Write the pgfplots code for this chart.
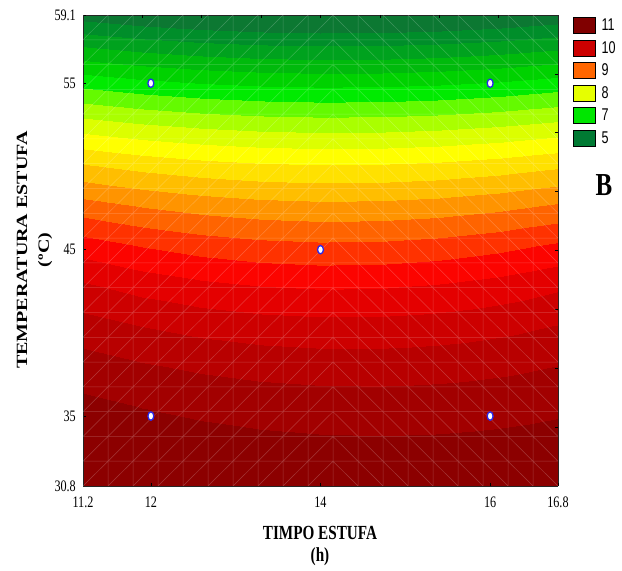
\documentclass[border=0pt]{standalone}
\usepackage{pgfplots}
\pgfplotsset{compat=1.18}
\usepackage{pgfplotstable}
\usepackage{graphicx}
\usepackage{fontspec}
\setmainfont{Liberation Serif}
\newfontfamily\arial{Liberation Sans}
\newcommand\tl[1]{\scalebox{0.76}[1]{#1}}
\newcommand\lt[1]{\scalebox{0.74}[1]{#1}}

\pgfplotstableread{
x y z
11.2 30.8 -0.317
11.9 30.8 -0.090
12.6 30.8 0.089
13.3 30.8 0.218
14.0 30.8 0.299
14.7 30.8 0.331
15.4 30.8 0.313
16.1 30.8 0.246
16.8 30.8 0.131
11.2 33.2 0.105
11.9 33.2 0.348
12.6 33.2 0.536
13.3 33.2 0.671
14.0 33.2 0.752
14.7 33.2 0.779
15.4 33.2 0.752
16.1 33.2 0.671
16.8 33.2 0.536
11.2 35.6 0.709
11.9 35.6 0.987
12.6 35.6 1.200
13.3 35.6 1.351
14.0 35.6 1.437
14.7 35.6 1.460
15.4 35.6 1.419
16.1 35.6 1.314
16.8 35.6 1.146
11.2 38.0 1.473
11.9 38.0 1.818
12.6 38.0 2.080
13.3 38.0 2.259
14.0 38.0 2.354
14.7 38.0 2.366
15.4 38.0 2.294
16.1 38.0 2.140
16.8 38.0 1.902
11.2 40.4 2.457
11.9 40.4 2.880
12.6 40.4 3.196
13.3 40.4 3.404
14.0 40.4 3.504
14.7 40.4 3.496
15.4 40.4 3.381
16.1 40.4 3.157
16.8 40.4 2.826
11.2 42.8 3.676
11.9 42.8 4.177
12.6 42.8 4.546
13.3 42.8 4.782
14.0 42.8 4.886
14.7 42.8 4.858
15.4 42.8 4.697
16.1 42.8 4.404
16.8 42.8 3.979
11.2 45.2 5.247
11.9 45.2 5.766
12.6 45.2 6.148
13.3 45.2 6.393
14.0 45.2 6.501
14.7 45.2 6.472
15.4 45.2 6.305
16.1 45.2 6.001
16.8 45.2 5.560
11.2 47.6 7.227
11.9 47.6 7.691
12.6 47.6 8.032
13.3 47.6 8.251
14.0 47.6 8.347
14.7 47.6 8.321
15.4 47.6 8.172
16.1 47.6 7.901
16.8 47.6 7.507
11.2 50.0 9.440
11.9 50.0 9.848
12.6 50.0 10.149
13.3 50.0 10.341
14.0 50.0 10.426
14.7 50.0 10.403
15.4 50.0 10.272
16.1 50.0 10.033
16.8 50.0 9.687
11.2 52.4 11.842
11.9 52.4 12.213
12.6 52.4 12.486
13.3 52.4 12.661
14.0 52.4 12.738
14.7 52.4 12.717
15.4 52.4 12.598
16.1 52.4 12.381
16.8 52.4 12.066
11.2 54.8 14.385
11.9 54.8 14.756
12.6 54.8 15.029
13.3 54.8 15.204
14.0 54.8 15.281
14.7 54.8 15.260
15.4 54.8 15.141
16.1 54.8 14.924
16.8 54.8 14.609
11.2 57.2 17.162
11.9 57.2 17.533
12.6 57.2 17.806
13.3 57.2 17.981
14.0 57.2 18.058
14.7 57.2 18.037
15.4 57.2 17.918
16.1 57.2 17.701
16.8 57.2 17.386
11.2 59.1 19.524
11.9 59.1 19.895
12.6 59.1 20.168
13.3 59.1 20.343
14.0 59.1 20.420
14.7 59.1 20.399
15.4 59.1 20.280
16.1 59.1 20.063
16.8 59.1 19.748
}\surfdata

\definecolor{L11}{RGB}{128,0,0}
\definecolor{L10}{RGB}{204,0,0}
\definecolor{L9}{RGB}{255,102,0}
\definecolor{L8}{RGB}{230,255,0}
\definecolor{L7}{RGB}{0,230,0}
\definecolor{L5}{RGB}{0,122,51}
\definecolor{ptblue}{RGB}{40,40,235}

\begin{document}
\begin{tikzpicture}
\path[use as bounding box] (-83bp,-85bp) rectangle (539bp,486bp);
\begin{axis}[
  at={(0,0)}, anchor=south west,
  width=475bp, height=471bp, scale only axis,
  view={0}{90},
  xmin=11.2, xmax=16.8, ymin=30.8, ymax=59.1,
  xtick={11.2,12,14,16,16.8},
  xticklabels={\tl{11.2},\tl{12},\tl{14},\tl{16},\tl{16.8}},
  ytick={30.8,35,45,55,59.1},
  yticklabels={\tl{30.8},\tl{35},\tl{45},\tl{55},\tl{59.1}},
  xtick pos=left, ytick pos=left,
  tick align=inside,
  major tick length=3bp,
  tick style={black, line width=0.6bp},
  ticklabel style={font=\fontsize{16bp}{19bp}\selectfont, inner sep=0pt},
  xticklabel style={anchor=north, yshift=-11bp},
  yticklabel style={anchor=east, xshift=-7bp},
  axis line style={black!85, line width=0.8bp},
  axis on top,
  colormap={bands}{
    rgb255=(140,0,0) rgb255=(162,0,0) rgb255=(184,0,0) rgb255=(205,0,0)
    rgb255=(228,0,0) rgb255=(252,4,0) rgb255=(255,50,0) rgb255=(255,100,0)
    rgb255=(255,148,0) rgb255=(255,190,0) rgb255=(255,225,0) rgb255=(255,255,0)
    rgb255=(220,255,0) rgb255=(170,255,0) rgb255=(100,250,0) rgb255=(0,235,0)
    rgb255=(0,210,0) rgb255=(0,186,12) rgb255=(0,162,30) rgb255=(0,142,42)
    rgb255=(12,120,50) rgb255=(12,120,50)},
  colormap access=piecewise constant,
  point meta min=0, point meta max=21,
  legend style={draw=none, fill=none, inner sep=0pt, outer sep=0pt,
    at={(1.0316,0.9958)}, anchor=north west, row sep=6bp,
    nodes={inner sep=0pt, anchor=west},
    font=\arial\fontsize{17bp}{19bp}\selectfont,
    /tikz/every odd column/.append style={column sep=6bp}},
  legend cell align=left,
]
\addplot3[surf, shader=interp, mesh/rows=13, mesh/cols=9, forget plot] table {\surfdata};
\addlegendimage{legend image code/.code={\draw[fill=L11, draw=black, line width=0.6bp] (0bp,-8bp) rectangle (22bp,8bp);}}
\addlegendentry{\lt{11}}
\addlegendimage{legend image code/.code={\draw[fill=L10, draw=black, line width=0.6bp] (0bp,-8bp) rectangle (22bp,8bp);}}
\addlegendentry{\lt{10}}
\addlegendimage{legend image code/.code={\draw[fill=L9, draw=black, line width=0.6bp] (0bp,-8bp) rectangle (22bp,8bp);}}
\addlegendentry{\lt{9}}
\addlegendimage{legend image code/.code={\draw[fill=L8, draw=black, line width=0.6bp] (0bp,-8bp) rectangle (22bp,8bp);}}
\addlegendentry{\lt{8}}
\addlegendimage{legend image code/.code={\draw[fill=L7, draw=black, line width=0.6bp] (0bp,-8bp) rectangle (22bp,8bp);}}
\addlegendentry{\lt{7}}
\addlegendimage{legend image code/.code={\draw[fill=L5, draw=black, line width=0.6bp] (0bp,-8bp) rectangle (22bp,8bp);}}
\addlegendentry{\lt{5}}
\end{axis}

% faint triangulated mesh, in grid-index units (19 x 19 cells)
\begin{axis}[
  at={(0,0)}, anchor=south west,
  width=475bp, height=471bp, scale only axis,
  xmin=0, xmax=19, ymin=0, ymax=19,
  axis line style={draw=none},
  xtick={2.375,4.75,7.125,9.5,11.875,14.25,16.625},
  ytick={2.375,4.75,7.125,9.5,11.875,14.25,16.625},
  xtick pos=right, ytick pos=right,
  xticklabels={}, yticklabels={},
  tick align=inside, major tick length=3bp,
  tick style={black, line width=0.6bp},
]
\addplot[white, opacity=0.22, line width=0.5bp, unbounded coords=jump] coordinates {
(1,0)(1,19)(nan,nan)(2,0)(2,19)(nan,nan)(3,0)(3,19)(nan,nan)(4,0)(4,19)(nan,nan)
(5,0)(5,19)(nan,nan)(6,0)(6,19)(nan,nan)(7,0)(7,19)(nan,nan)(8,0)(8,19)(nan,nan)
(9,0)(9,19)(nan,nan)(10,0)(10,19)(nan,nan)(11,0)(11,19)(nan,nan)(12,0)(12,19)(nan,nan)
(13,0)(13,19)(nan,nan)(14,0)(14,19)(nan,nan)(15,0)(15,19)(nan,nan)(16,0)(16,19)(nan,nan)
(17,0)(17,19)(nan,nan)(18,0)(18,19)(nan,nan)
(0,1)(19,1)(nan,nan)(0,2)(19,2)(nan,nan)(0,3)(19,3)(nan,nan)(0,4)(19,4)(nan,nan)
(0,5)(19,5)(nan,nan)(0,6)(19,6)(nan,nan)(0,7)(19,7)(nan,nan)(0,8)(19,8)(nan,nan)
(0,9)(19,9)(nan,nan)(0,10)(19,10)(nan,nan)(0,11)(19,11)(nan,nan)(0,12)(19,12)(nan,nan)
(0,13)(19,13)(nan,nan)(0,14)(19,14)(nan,nan)(0,15)(19,15)(nan,nan)(0,16)(19,16)(nan,nan)
(0,17)(19,17)(nan,nan)(0,18)(19,18)(nan,nan)
(0,18)(1,19)(nan,nan)(0,17)(2,19)(nan,nan)(0,16)(3,19)(nan,nan)(0,15)(4,19)(nan,nan)
(0,14)(5,19)(nan,nan)(0,13)(6,19)(nan,nan)(0,12)(7,19)(nan,nan)(0,11)(8,19)(nan,nan)
(0,10)(9,19)(nan,nan)(0,9)(10,19)(nan,nan)(0,8)(10,18)(nan,nan)(0,7)(10,17)(nan,nan)
(0,6)(10,16)(nan,nan)(0,5)(10,15)(nan,nan)(0,4)(10,14)(nan,nan)(0,3)(10,13)(nan,nan)
(0,2)(10,12)(nan,nan)(0,1)(10,11)(nan,nan)(0,0)(10,10)(nan,nan)(1,0)(10,9)(nan,nan)
(2,0)(10,8)(nan,nan)(3,0)(10,7)(nan,nan)(4,0)(10,6)(nan,nan)(5,0)(10,5)(nan,nan)
(6,0)(10,4)(nan,nan)(7,0)(10,3)(nan,nan)(8,0)(10,2)(nan,nan)(9,0)(10,1)(nan,nan)
(10,1)(11,0)(nan,nan)(10,2)(12,0)(nan,nan)(10,3)(13,0)(nan,nan)(10,4)(14,0)(nan,nan)
(10,5)(15,0)(nan,nan)(10,6)(16,0)(nan,nan)(10,7)(17,0)(nan,nan)(10,8)(18,0)(nan,nan)
(10,9)(19,0)(nan,nan)(10,10)(19,1)(nan,nan)(10,11)(19,2)(nan,nan)(10,12)(19,3)(nan,nan)
(10,13)(19,4)(nan,nan)(10,14)(19,5)(nan,nan)(10,15)(19,6)(nan,nan)(10,16)(19,7)(nan,nan)
(10,17)(19,8)(nan,nan)(10,18)(19,9)(nan,nan)(10,19)(19,10)(nan,nan)(11,19)(19,11)(nan,nan)
(12,19)(19,12)(nan,nan)(13,19)(19,13)(nan,nan)(14,19)(19,14)(nan,nan)(15,19)(19,15)(nan,nan)
(16,19)(19,16)(nan,nan)(17,19)(19,17)(nan,nan)(18,19)(19,18)
};
\end{axis}

% experimental points
\begin{axis}[
  at={(0,0)}, anchor=south west,
  width=475bp, height=471bp, scale only axis,
  xmin=11.2, xmax=16.8, ymin=30.8, ymax=59.1,
  hide axis,
]
\addplot[only marks, mark=*, mark size=4.2bp,
  mark options={fill=white, draw=ptblue, line width=1.3bp, xscale=0.7}]
  coordinates {(12,55) (16,55) (14,45) (12,35) (16,35)};
\end{axis}

\node[font=\bfseries\fontsize{20bp}{24bp}\selectfont, rotate=90, inner sep=0pt] at (-61bp,236bp) {\scalebox{1}[0.78]{TEMPERATURA ESTUFA}};
\node[font=\bfseries\fontsize{20bp}{24bp}\selectfont, rotate=90, inner sep=0pt] at (-38bp,236bp) {\scalebox{1}[0.78]{(ºC)}};
\node[font=\bfseries\fontsize{20bp}{24bp}\selectfont, inner sep=0pt] at (237bp,-47bp) {\scalebox{0.76}[1]{TIMPO ESTUFA}};
\node[font=\bfseries\fontsize{20bp}{24bp}\selectfont, inner sep=0pt] at (237bp,-71bp) {\scalebox{0.76}[1]{(h)}};
\node[font=\bfseries\fontsize{32bp}{36bp}\selectfont, inner sep=0pt] at (521bp,301bp) {\scalebox{0.78}[1]{B}};
\end{tikzpicture}
\end{document}
